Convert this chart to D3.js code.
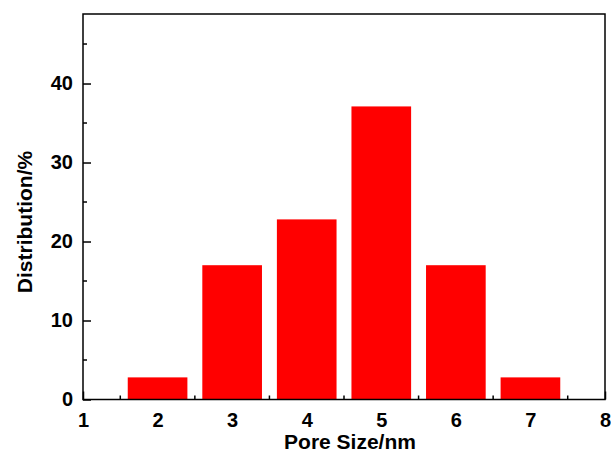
<!DOCTYPE html>
<html>
<head>
<meta charset="utf-8">
<script src="https://cdn.jsdelivr.net/npm/d3@7"></script>
<style>
  body { margin: 0; background: #fff; }
  text { font-family: "Liberation Sans", Arial, sans-serif; font-weight: bold; fill: #000; }
</style>
</head>
<body>
<svg width="611" height="453"></svg>
<script>
// pore size classes (nm) and their share (%)
var poreSizes = [2, 3, 4, 5, 6, 7];
var distribution = [2.8, 17.0, 22.8, 37.1, 17.0, 2.8];
var xTicks = [1, 2, 3, 4, 5, 6, 7, 8];
var yTicks = [0, 10, 20, 30, 40];

var svg = d3.select("svg");
var margin = {top: 14, right: 6, bottom: 53.5, left: 83};
var width = 611 - margin.left - margin.right;
var height = 453 - margin.top - margin.bottom;

var x = d3.scaleLinear().domain([1, 8]).range([0, width]);
var y = d3.scaleLinear().domain([0, 48.8]).range([height, 0]);

var g = svg.append("g")
    .attr("transform", "translate(" + margin.left + "," + margin.top + ")");

// inward ticks
var xAxis = d3.axisBottom(x).tickValues(xTicks).tickSize(-8).tickPadding(13).tickFormat(d3.format("d"));
var yAxis = d3.axisLeft(y).tickValues(yTicks).tickSize(-8).tickPadding(10).tickFormat(d3.format("d"));

var gx = g.append("g").attr("transform", "translate(0," + height + ")").call(xAxis);
var gy = g.append("g").call(yAxis);

// minor ticks
g.append("g").selectAll("line")
    .data(d3.range(1.5, 8, 1))
    .enter().append("line")
    .attr("x1", function(d) { return x(d); })
    .attr("x2", function(d) { return x(d); })
    .attr("y1", height)
    .attr("y2", height - 4)
    .attr("stroke", "#000").attr("stroke-width", 1.5);

g.append("g").selectAll("line")
    .data(d3.range(5, 48, 10))
    .enter().append("line")
    .attr("x1", 0)
    .attr("x2", 4)
    .attr("y1", function(d) { return y(d); })
    .attr("y2", function(d) { return y(d); })
    .attr("stroke", "#000").attr("stroke-width", 1.5);

[gx, gy].forEach(function(a) {
    a.select(".domain").remove();
    a.selectAll(".tick line").attr("stroke", "#000").attr("stroke-width", 1.5);
    a.selectAll(".tick text").style("font-size", "20px");
});

// bars
g.selectAll(".bar")
    .data(poreSizes)
    .enter().append("rect")
    .attr("class", "bar")
    .attr("x", function(d) { return x(d - 0.4); })
    .attr("width", x(1.8) - x(1))
    .attr("y", function(d, i) { return y(distribution[i]); })
    .attr("height", function(d, i) { return height - y(distribution[i]); })
    .attr("fill", "#ff0000");

// frame
g.append("rect")
    .attr("width", width)
    .attr("height", height)
    .attr("fill", "none")
    .attr("stroke", "#000")
    .attr("stroke-width", 1.5);

svg.append("text")
    .attr("x", 350)
    .attr("y", 449)
    .attr("text-anchor", "middle")
    .style("font-size", "21px")
    .text("Pore Size/nm");

svg.append("text")
    .attr("transform", "translate(32,222) rotate(-90)")
    .attr("text-anchor", "middle")
    .style("font-size", "21px")
    .text("Distribution/%");
</script>
</body>
</html>
